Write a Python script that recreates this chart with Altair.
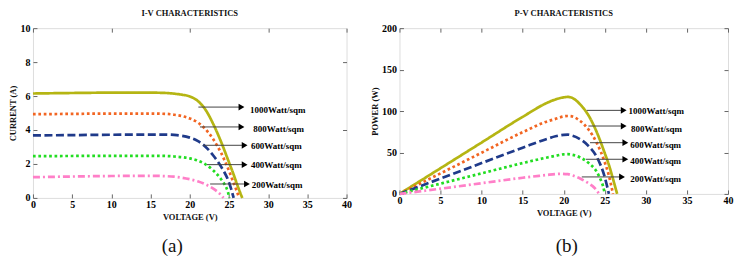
import altair as alt
import pandas as pd

SERIES = ["1000Watt/sqm", "800Watt/sqm", "600Watt/sqm", "400Watt/sqm", "200Watt/sqm"]

# ---------- I-V data ----------
iv_v_1000 = [0, 5, 10, 15, 17, 18, 19, 20, 21, 22, 23, 24, 25, 25.5, 26, 26.4, 26.7]
iv_i_1000 = [6.15, 6.18, 6.2, 6.2, 6.18, 6.14, 6.08, 5.98, 5.72, 5.2, 4.35, 3.3, 2.1, 1.5, 0.85, 0.35, 0]
iv_v_800 = [0, 5, 10, 15, 17, 18, 19, 20, 21, 22, 23, 24, 25, 25.5, 26, 26.3]
iv_i_800 = [4.93, 4.95, 4.97, 4.97, 4.95, 4.9, 4.82, 4.68, 4.45, 4.05, 3.45, 2.65, 1.6, 1.0, 0.4, 0]
iv_v_600 = [0, 5, 10, 15, 17, 18, 19, 20, 21, 22, 23, 24, 25, 25.3, 25.6]
iv_i_600 = [3.68, 3.7, 3.72, 3.73, 3.73, 3.71, 3.66, 3.55, 3.36, 3.02, 2.5, 1.84, 0.92, 0.5, 0]
iv_v_400 = [0, 5, 10, 15, 17, 18, 19, 20, 21, 22, 23, 24, 24.5, 24.9, 25.05]
iv_i_400 = [2.46, 2.47, 2.48, 2.48, 2.47, 2.44, 2.4, 2.33, 2.2, 1.98, 1.62, 1.1, 0.75, 0.3, 0]
iv_v_200 = [0, 5, 10, 15, 17, 18, 19, 20, 21, 22, 23, 23.5, 24, 24.3]
iv_i_200 = [1.22, 1.26, 1.29, 1.3, 1.28, 1.25, 1.19, 1.1, 0.98, 0.8, 0.55, 0.38, 0.17, 0]

# ---------- P-V data ----------
pv_v_1000 = [0, 5, 10, 15, 18, 19, 20, 20.5, 21, 22, 23, 24, 25, 25.5, 26, 26.5]
pv_p_1000 = [0, 31, 62, 93, 110, 114, 116.5, 117, 116, 108, 95, 75, 49, 35, 18, 0]
pv_v_800 = [0, 5, 10, 15, 18, 19, 20, 20.5, 21, 22, 23, 24, 25, 25.5, 26.0]
pv_p_800 = [0, 24.8, 49.7, 74.5, 87.5, 90.5, 93.5, 94, 93.5, 88, 78, 62, 38, 22, 0]
pv_v_600 = [0, 5, 10, 15, 18, 19, 20, 20.5, 21, 22, 23, 24, 25, 25.5]
pv_p_600 = [0, 18.5, 37.2, 55.8, 66.5, 69.5, 71.3, 71.5, 70.5, 66, 58, 45, 20, 0]
pv_v_400 = [0, 5, 10, 15, 18, 19, 20, 20.5, 21, 22, 23, 24, 24.5, 24.8, 25.0]
pv_p_400 = [0, 12.4, 24.8, 37.2, 44, 46, 47.8, 48, 47.3, 44, 37.5, 27, 17, 9, 0]
pv_v_200 = [0, 5, 10, 15, 17, 18, 19, 19.7, 20.5, 21, 22, 23, 23.5, 24, 24.3]
pv_p_200 = [0, 6.3, 12.9, 19.5, 21.8, 22.9, 23.9, 24.3, 23.8, 22.5, 18.5, 13, 9.5, 4.5, 0]

# ---------- arrow annotations ----------
iv_arrow_x1 = [21.1, 21.3, 21.7, 22.2, 22.6]
iv_arrow_x2 = [26.6, 26.6, 27.0, 27.0, 27.3]
iv_arrow_y = [5.35, 4.18, 3.1, 1.96, 0.82]
iv_label_x = [27.7, 28.1, 27.8, 27.8, 27.9]
iv_label_y = [5.19, 4.08, 3.04, 1.96, 0.78]

pv_arrow_x1 = [22.8, 23.0, 23.2, 22.7, 22.2]
pv_arrow_x2 = [27.3, 27.3, 27.5, 27.5, 27.1]
pv_arrow_y = [100.8, 81.9, 61.8, 41.8, 20.5]
pv_label_x = [27.9, 28.2, 28.1, 28.1, 28.1]
pv_label_y = [99.6, 78.7, 59.4, 40.1, 18.4]

x_ticks = [0, 5, 10, 15, 20, 25, 30, 35, 40]
iv_y_ticks = [0, 2, 4, 6, 8, 10]
pv_y_ticks = [0, 50, 100, 150, 200]

iv_colors = ["#b5b513", "#f26522", "#1f3a8a", "#22dd22", "#ff7fc8"]
pv_colors = ["#b5b513", "#e3141e", "#1a2aff", "#22dd22", "#ff7fc8"]
dashes = [[1, 0], [2.7, 2.7], [8, 3.5], [2.7, 2.7], [7, 3, 2, 3]]

FONT = "Liberation Serif, Times New Roman, serif"


def long_df(vs, ys):
    rows = []
    for s, v, y in zip(SERIES, vs, ys):
        for k, (a, b) in enumerate(zip(v, y)):
            rows.append({"series": s, "V": a, "val": b, "idx": k})
    return pd.DataFrame(rows)


def arrow_df(x1, x2, y, lx, ly):
    return pd.DataFrame({"series": SERIES, "x1": x1, "x2": x2, "y": y, "lx": lx, "ly": ly})


def panel(df, adf, ydom, yticks, ytitle, title, colors, w, h):
    xs = alt.Scale(domain=[0, 40], nice=False, zero=False)
    ys = alt.Scale(domain=ydom, nice=False, zero=False)
    common = dict(offset=-4, tickSize=4, domain=False, grid=False, tickColor="#666",
                  labelFont=FONT, labelFontWeight="bold", labelFontSize=10, labelColor="#000",
                  titleFont=FONT, titleFontWeight="bold", titleFontSize=8.5, titleColor="#111")
    lines = alt.Chart(df).mark_line(strokeWidth=2.7, strokeCap="butt", interpolate="monotone").encode(
        x=alt.X("V:Q", scale=xs, axis=alt.Axis(values=x_ticks, title="VOLTAGE (V)", labelFlush=False,
                                                labelPadding=2, titlePadding=3, **common)),
        y=alt.Y("val:Q", scale=ys, axis=alt.Axis(values=yticks, title=ytitle, labelFlush=False,
                                                  labelPadding=3, titlePadding=2, **common)),
        color=alt.Color("series:N", scale=alt.Scale(domain=SERIES, range=colors), legend=None),
        strokeDash=alt.StrokeDash("series:N", scale=alt.Scale(domain=SERIES, range=dashes), legend=None),
        order=alt.Order("idx:Q"),
    )
    mirror = dict(offset=-4, tickSize=4, domain=False, grid=False, tickColor="#666", labels=False, title=None)
    base = alt.Chart(adf)
    rule = base.mark_rule(color="#444", strokeWidth=1).encode(
        x=alt.X("x1:Q", scale=xs, axis=alt.Axis(values=x_ticks, orient="top", **mirror)),
        x2="x2:Q",
        y=alt.Y("y:Q", scale=ys, axis=alt.Axis(values=yticks, orient="right", **mirror)),
    )
    head = base.mark_point(shape="triangle-right", filled=True, color="#000", size=45, opacity=1).encode(
        x=alt.X("x2:Q", scale=xs), y=alt.Y("y:Q", scale=ys))
    text = base.mark_text(align="left", baseline="middle", font=FONT, fontWeight="bold",
                          fontSize=9, color="#000").encode(
        x=alt.X("lx:Q", scale=xs), y=alt.Y("ly:Q", scale=ys), text="series:N")
    ann = alt.layer(rule, head, text)
    return alt.layer(lines, ann).resolve_scale(x="independent", y="independent").properties(
        width=w, height=h,
        title=alt.TitleParams(title, font=FONT, fontWeight="bold", fontSize=8.5, color="#111",
                              anchor="middle", frame="group", offset=6))


pa = panel(long_df([iv_v_1000, iv_v_800, iv_v_600, iv_v_400, iv_v_200],
                   [iv_i_1000, iv_i_800, iv_i_600, iv_i_400, iv_i_200]),
           arrow_df(iv_arrow_x1, iv_arrow_x2, iv_arrow_y, iv_label_x, iv_label_y),
           [0, 10], iv_y_ticks, "CURRENT (A)", "I-V CHARACTERISTICS", iv_colors, 314, 170)
pb = panel(long_df([pv_v_1000, pv_v_800, pv_v_600, pv_v_400, pv_v_200],
                   [pv_p_1000, pv_p_800, pv_p_600, pv_p_400, pv_p_200]),
           arrow_df(pv_arrow_x1, pv_arrow_x2, pv_arrow_y, pv_label_x, pv_label_y),
           [0, 200], pv_y_ticks, "POWER (W)", "P-V CHARACTERISTICS", pv_colors, 329, 166)

wa = alt.vconcat(pa, title=alt.TitleParams("(a)", orient="bottom", font=FONT, fontSize=19,
                                           fontWeight="normal", color="#111", anchor="middle",
                                           offset=15, dx=-8))
wb = alt.vconcat(pb, title=alt.TitleParams("(b)", orient="bottom", font=FONT, fontSize=19,
                                           fontWeight="normal", color="#111", anchor="middle",
                                           offset=19, dx=15))

chart = alt.hconcat(wa, wb, spacing=17).properties(
    padding={"left": 0, "top": 0, "right": 0, "bottom": 0}
).configure_view(stroke="#666", strokeWidth=1).configure(background="white")

chart.save("out.html", embed_options={"renderer": "svg", "actions": False})
